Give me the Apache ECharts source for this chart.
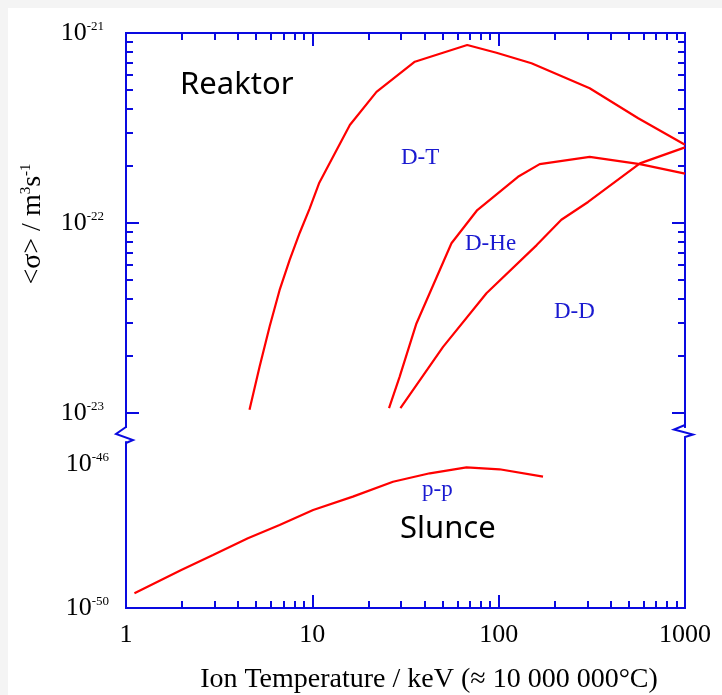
<!DOCTYPE html>
<html>
<head>
<meta charset="utf-8">
<script src="https://cdn.jsdelivr.net/npm/echarts@6/dist/echarts.min.js"></script>
<style>
html, body { margin: 0; padding: 0; background: #fff; }
#chart { width: 722px; height: 695px; }
</style>
</head>
<body>
<div id="chart"></div>
<script>
// ion temperature in keV, reactivity <sigma v> in m^3/s
var dtTemp = [4.6, 5.21, 5.9, 6.67, 7.55, 8.55, 9.67, 10.9, 12.4, 15.9, 22.1, 35.5, 67.8, 97.3, 150, 308, 561, 1000];
var dtSigma = [1.04e-23, 1.75e-23, 2.85e-23, 4.43e-23, 6.38e-23, 8.86e-23, 1.19e-22, 1.63e-22, 2.07e-22, 3.28e-22, 4.9e-22, 7.06e-22, 8.65e-22, 7.87e-22, 6.93e-22, 5.12e-22, 3.56e-22, 2.58e-22];
var dheTemp = [25.8, 29.4, 36.2, 55.8, 76.8, 127, 166, 308, 573, 1000];
var dheSigma = [1.06e-23, 1.55e-23, 2.96e-23, 7.82e-23, 1.17e-22, 1.75e-22, 2.04e-22, 2.23e-22, 2.04e-22, 1.82e-22];
var ddTemp = [29.7, 50.3, 86, 160, 217, 302, 573, 1000];
var ddSigma = [1.06e-23, 2.23e-23, 4.27e-23, 7.65e-23, 1.04e-22, 1.29e-22, 2.06e-22, 2.5e-22];
var ppTemp = [1.11, 1.98, 2.93, 4.51, 6.67, 10.1, 16.5, 27.1, 42.7, 67.2, 101, 173];
var ppSigma = [2.57e-50, 1.14e-49, 2.97e-49, 8.63e-49, 2.02e-48, 5.27e-48, 1.24e-47, 3.22e-47, 5.52e-47, 8.09e-47, 7.13e-47, 4.44e-47];

var xTickLabels = ['1', '10', '100', '1000'];
var upperDecades = [-23, -22, -21];
var lowerDecades = [-50, -46];

var BLUE = '#0a0ae0';
var RED = '#ff0000';
var SERIF = '"Liberation Serif", "Times New Roman", serif';

// axes are linear in log10 units, so every value goes through log10
function toLog(t, s) {
  return t.map(function (v, i) { return [Math.log10(v), Math.log10(s[i])]; });
}
// minor tick positions k*10^n, k = 2..9
function minorTicks(from, to) {
  var out = [];
  for (var n = from; n < to; n++) {
    for (var k = 2; k < 10; k++) out.push(n + Math.log10(k));
  }
  return out;
}
var xMinor = minorTicks(0, 3);
var yMinor = minorTicks(-23, -21);

function axisBase(extra) {
  var a = {
    type: 'value',
    axisLine: { show: true, onZero: false, lineStyle: { color: BLUE, width: 2 } },
    axisTick: { show: false },
    axisLabel: { show: false },
    splitLine: { show: false }
  };
  for (var k in extra) a[k] = extra[k];
  return a;
}
function ticks(values, len) {
  return { show: true, inside: true, length: len, customValues: values, lineStyle: { color: BLUE, width: 2 } };
}

var upperMin = -21 - 394 / 190;
var lowerMax = -50 + 166 / 36;

var supLabel = {
  show: true,
  fontFamily: SERIF,
  color: '#000',
  formatter: function (v) { return '{b|10}{s|' + Math.round(v) + '}'; },
  rich: {
    b: { fontSize: 26, fontFamily: SERIF, color: '#000' },
    s: { fontSize: 13, fontFamily: SERIF, color: '#000', verticalAlign: 'top' }
  }
};

var option = {
  animation: false,
  backgroundColor: '#fff',
  grid: [
    { left: 126, top: 33, width: 559, height: 394 },
    { left: 126, top: 442, width: 559, height: 166 }
  ],
  xAxis: [
    axisBase({ gridIndex: 0, position: 'top', min: 0, max: 3, axisTick: ticks(xMinor, 7) }),
    axisBase({ gridIndex: 0, position: 'top', min: 0, max: 3, axisTick: ticks([1, 2], 13) }),
    axisBase({ gridIndex: 1, position: 'bottom', min: 0, max: 3, axisTick: ticks(xMinor, 7) }),
    axisBase({
      gridIndex: 1, position: 'bottom', min: 0, max: 3,
      axisTick: ticks([1, 2], 13),
      axisLabel: {
        show: true, customValues: [0, 1, 2, 3], margin: 14,
        fontSize: 26, fontFamily: SERIF, color: '#000',
        formatter: function (v) { return xTickLabels[Math.round(v)]; }
      }
    })
  ],
  yAxis: [
    axisBase({ gridIndex: 0, position: 'left', min: upperMin, max: -21, axisTick: ticks(yMinor, 7) }),
    axisBase({
      gridIndex: 0, position: 'left', min: upperMin, max: -21,
      axisTick: ticks([-23, -22], 13),
      axisLabel: Object.assign({ customValues: upperDecades, margin: 22 }, supLabel)
    }),
    axisBase({ gridIndex: 0, position: 'right', min: upperMin, max: -21, axisTick: ticks(yMinor, 7) }),
    axisBase({ gridIndex: 0, position: 'right', min: upperMin, max: -21, axisTick: ticks([-23, -22], 13) }),
    axisBase({
      gridIndex: 1, position: 'left', min: -50, max: lowerMax,
      axisLabel: Object.assign({ customValues: lowerDecades, margin: 17 }, supLabel)
    }),
    axisBase({ gridIndex: 1, position: 'right', min: -50, max: lowerMax })
  ],
  series: [
    { name: 'D-T', data: toLog(dtTemp, dtSigma), xAxisIndex: 0, yAxisIndex: 0 },
    { name: 'D-He', data: toLog(dheTemp, dheSigma), xAxisIndex: 0, yAxisIndex: 0 },
    { name: 'D-D', data: toLog(ddTemp, ddSigma), xAxisIndex: 0, yAxisIndex: 0 },
    { name: 'p-p', data: toLog(ppTemp, ppSigma), xAxisIndex: 2, yAxisIndex: 4 }
  ].map(function (s) {
    s.type = 'line';
    s.symbol = 'none';
    s.lineStyle = { color: RED, width: 2.2 };
    return s;
  }),
  graphic: [
    // grey page margin
    { type: 'rect', shape: { x: 0, y: 0, width: 722, height: 8 }, style: { fill: '#f4f4f4' } },
    { type: 'rect', shape: { x: 0, y: 0, width: 8, height: 695 }, style: { fill: '#f4f4f4' } },
    // axis break marks
    { type: 'polyline', shape: { points: [[126, 427], [116, 434], [133, 440], [126, 443]] }, style: { stroke: BLUE, lineWidth: 2, fill: null } },
    { type: 'polyline', shape: { points: [[685, 425], [674, 429.5], [693, 434.5], [685, 437], [685, 443]] }, style: { stroke: BLUE, lineWidth: 2, fill: null } },
    // titles
    {
      type: 'text', x: 33, y: 224, rotation: Math.PI / 2,
      style: {
        text: '{a|<σ> / m}{s|3}{a|s}{s|-1}', align: 'center', verticalAlign: 'middle',
        rich: {
          a: { fontSize: 28, fontFamily: SERIF, fill: '#000' },
          s: { fontSize: 15, fontFamily: SERIF, fill: '#000', verticalAlign: 'top' }
        }
      }
    },
    {
      type: 'text', x: 429, y: 680,
      style: { text: 'Ion Temperature / keV (≈ 10 000 000°C)', fontSize: 28, fontFamily: SERIF, fill: '#000', align: 'center', verticalAlign: 'middle' }
    },
    // annotations
    { type: 'text', x: 180, y: 85, style: { text: 'Reaktor', fontSize: 31, fontFamily: '"Noto Sans", sans-serif', fill: '#000', verticalAlign: 'middle' } },
    { type: 'text', x: 400, y: 529, style: { text: 'Slunce', fontSize: 31, fontFamily: '"Noto Sans", sans-serif', fill: '#000', verticalAlign: 'middle' } },
    { type: 'text', x: 401, y: 158, style: { text: 'D-T', fontSize: 23, fontFamily: SERIF, fill: '#1a1ad0', verticalAlign: 'middle' } },
    { type: 'text', x: 465, y: 244, style: { text: 'D-He', fontSize: 23, fontFamily: SERIF, fill: '#1a1ad0', verticalAlign: 'middle' } },
    { type: 'text', x: 554, y: 312, style: { text: 'D-D', fontSize: 23, fontFamily: SERIF, fill: '#1a1ad0', verticalAlign: 'middle' } },
    { type: 'text', x: 422, y: 490, style: { text: 'p-p', fontSize: 23, fontFamily: SERIF, fill: '#1a1ad0', verticalAlign: 'middle' } }
  ]
};

var chart = echarts.init(document.getElementById('chart'));
chart.setOption(option);
</script>
</body>
</html>
